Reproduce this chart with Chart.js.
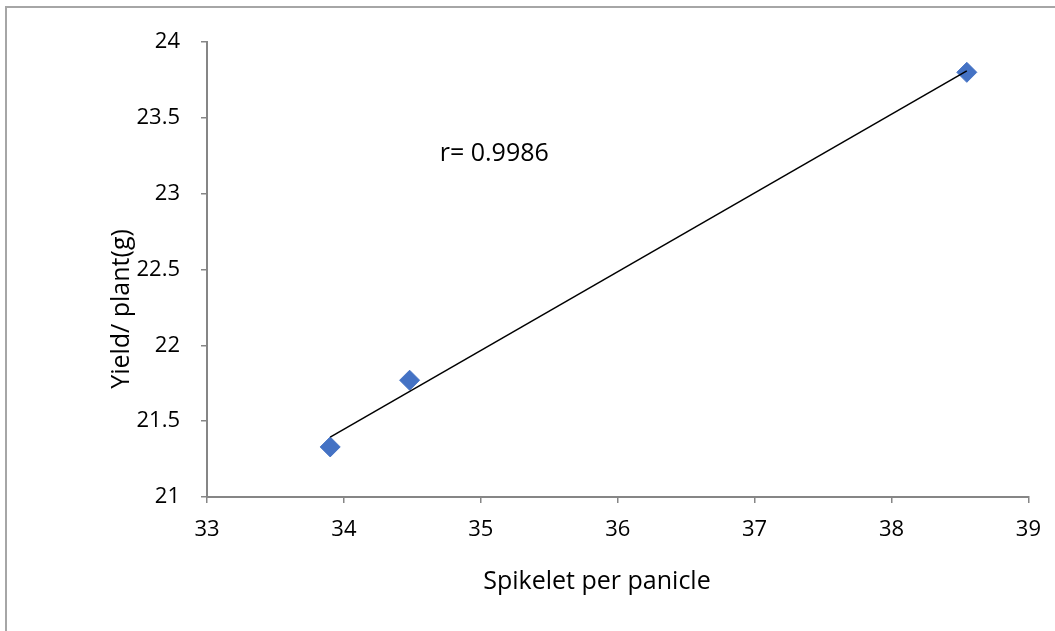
<!DOCTYPE html>
<html>
<head>
<meta charset="utf-8">
<script src="https://cdn.jsdelivr.net/npm/chart.js@4.4.1/dist/chart.umd.min.js"></script>
<style>
  body { margin: 0; background: #fff; overflow: hidden; }
  #frame { position: absolute; left: 5px; top: 6px; width: 2000px; height: 2000px;
           border-left: 2px solid #a6a6a6; border-top: 2px solid #a6a6a6; }
  #graficoDispersao { position: absolute; left: 0; top: 0; }
</style>
</head>
<body>
<div id="frame"></div>
<canvas id="graficoDispersao" width="1055" height="631"></canvas>
<script>
// valores
const spikelet = [33.9, 34.48, 38.55];
const yieldPlant = [21.33, 21.77, 23.8];
const xTicks = [33, 34, 35, 36, 37, 38, 39];
const yTicks = [21, 21.5, 22, 22.5, 23, 23.5, 24];
const rText = 'r= 0.9986';
const xTitle = 'Spikelet per panicle';
const yTitle = 'Yield/ plant(g)';

// linha de tendencia (minimos quadrados)
const n = spikelet.length;
const mx = spikelet.reduce((a, b) => a + b, 0) / n;
const my = yieldPlant.reduce((a, b) => a + b, 0) / n;
let sxy = 0, sxx = 0;
for (let i = 0; i < n; i++) {
    sxy += (spikelet[i] - mx) * (yieldPlant[i] - my);
    sxx += (spikelet[i] - mx) * (spikelet[i] - mx);
}
const slope = sxy / sxx;
const xMin = Math.min(...spikelet), xMax = Math.max(...spikelet);
const trend = [
    { x: xMin, y: my + slope * (xMin - mx) },
    { x: xMax, y: my + slope * (xMax - mx) }
];

const axisColor = '#868686';
const fonte = '"Open Sans", sans-serif';

// textos: r, titulos dos eixos
const textos = {
    id: 'textos',
    afterDraw(chart) {
        const ctx = chart.ctx;
        const sx = chart.scales.x, sy = chart.scales.y;
        ctx.save();
        ctx.font = '25px ' + fonte;
        ctx.fillStyle = '#000';
        ctx.textBaseline = 'middle';
        ctx.fillText(rText, sx.getPixelForValue(34.7), sy.getPixelForValue(23.26));

        ctx.textAlign = 'center';
        ctx.fillText(xTitle, 597, 582);

        ctx.translate(122, 309);
        ctx.rotate(-Math.PI / 2);
        ctx.fillText(yTitle, 0, 0);
        ctx.restore();
    }
};

const ctxDisp = document.getElementById('graficoDispersao').getContext('2d');
const graficoDispersao = new Chart(ctxDisp, {
    type: 'scatter',
    data: {
        datasets: [{
            label: 'Linear',
            data: trend,
            showLine: true,
            borderColor: '#000',
            borderWidth: 1.5,
            pointRadius: 0,
            pointHoverRadius: 0
        }, {
            label: yTitle,
            data: spikelet.map((v, i) => ({ x: v, y: yieldPlant[i] })),
            pointStyle: 'rectRot',
            pointRadius: 10,
            pointHoverRadius: 10,
            backgroundColor: '#4472C4',
            borderColor: '#4472C4',
            borderWidth: 1
        }]
    },
    options: {
        responsive: false,
        animation: false,
        layout: { padding: { left: 0, top: 42, right: 26, bottom: 0 } },
        plugins: {
            legend: { display: false },
            tooltip: { enabled: false }
        },
        scales: {
            x: {
                type: 'linear',
                min: 33,
                max: 39,
                afterBuildTicks: (s) => { s.ticks = xTicks.map(v => ({ value: v })); },
                afterFit: (s) => { s.height = 631 - 497; },
                ticks: { color: '#000', font: { family: fonte, size: 22 }, padding: 14,
                         callback: (v) => String(v) },
                grid: { drawOnChartArea: false, drawTicks: true, tickLength: 6, color: axisColor, lineWidth: 1.5 },
                border: { color: axisColor, width: 2 }
            },
            y: {
                min: 21,
                max: 24,
                afterBuildTicks: (s) => { s.ticks = yTicks.map(v => ({ value: v })); },
                afterFit: (s) => { s.width = 207; },
                ticks: { color: '#000', font: { family: fonte, size: 22 }, padding: 21,
                         callback: (v) => String(v) },
                grid: { drawOnChartArea: false, drawTicks: true, tickLength: 6, color: axisColor, lineWidth: 1.5 },
                border: { color: axisColor, width: 2 }
            }
        }
    },
    plugins: [textos]
});
</script>
</body>
</html>
